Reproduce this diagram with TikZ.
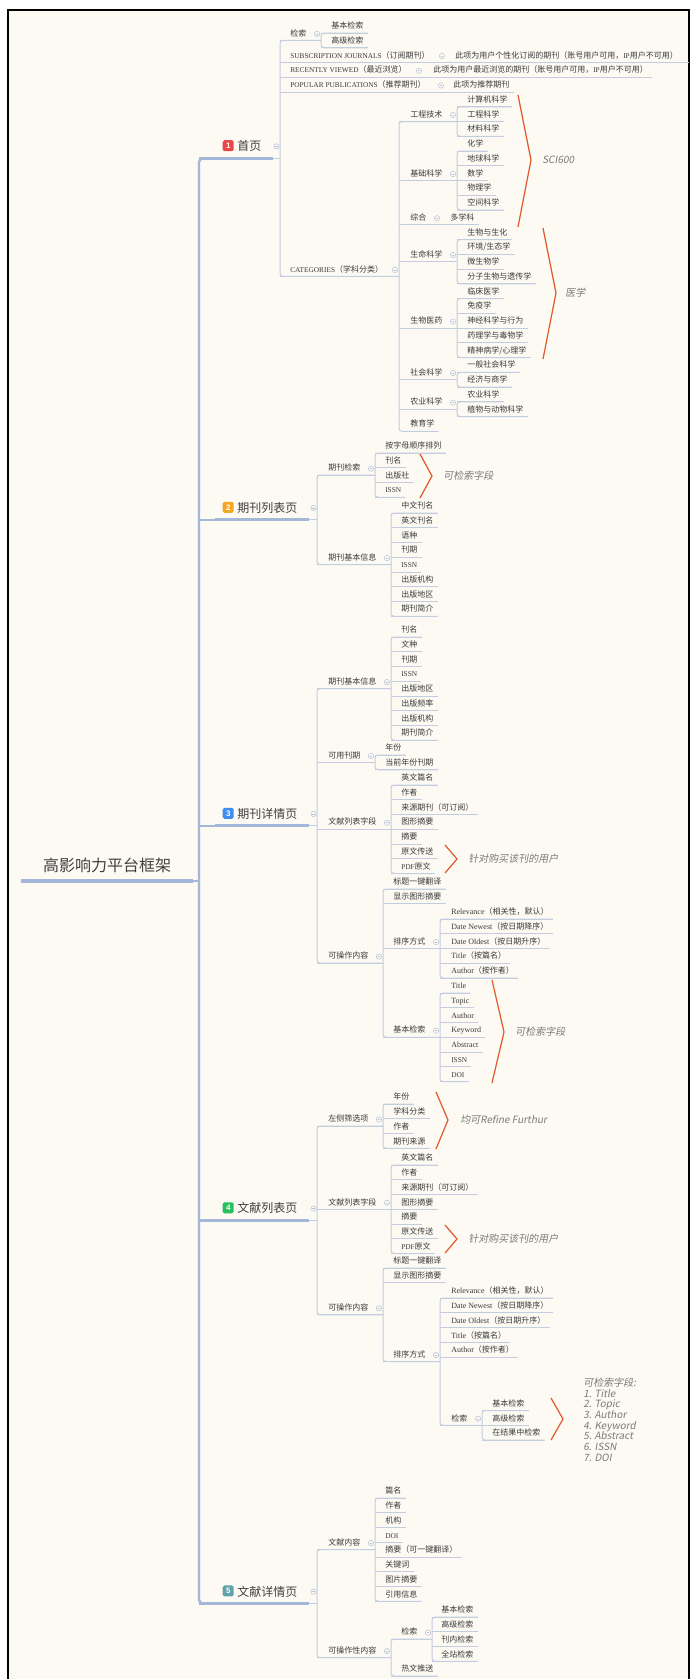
\documentclass[tikz,border=0pt]{standalone}
\usepackage{fontspec}
\setmainfont{Noto Sans CJK SC}
\newfontfamily\latinfont{Liberation Serif}
\newfontfamily\badgefont{Liberation Sans}
\newfontfamily\notefont[FakeSlant=0.18]{Noto Sans CJK SC}
\usetikzlibrary{positioning}

\definecolor{bgc}{HTML}{FCFAF3}
\definecolor{linec}{HTML}{C3CDDF}
\definecolor{trunkc}{HTML}{A3B8D8}
\definecolor{foldc}{HTML}{B5C2D8}
\definecolor{txtc}{HTML}{3A3A3A}
\definecolor{topc}{HTML}{404040}
\definecolor{notec}{HTML}{7A7A7A}
\definecolor{bracec}{HTML}{E2582A}
\definecolor{bred}{HTML}{E9474B}
\definecolor{borange}{HTML}{F5A623}
\definecolor{bblue}{HTML}{3D8EF2}
\definecolor{bgreen}{HTML}{26C15A}
\definecolor{bteal}{HTML}{61A1AC}

\newcommand{\lat}[1]{{\latinfont #1}}
\newcommand{\capsl}[1]{{\latinfont\fontsize{5.5}{6}\selectfont #1}}

\tikzset{
    leaf/.style={anchor=south west, inner xsep=0pt, inner ysep=3pt, text depth=0pt,
        text=txtc, font=\fontsize{6}{7}\selectfont},
    topic/.style={anchor=south west, inner xsep=0pt, inner ysep=5.5pt, text depth=0pt,
        text=topc, font=\fontsize{9}{10}\selectfont},
    root/.style={anchor=south, inner xsep=16.5pt, inner ysep=7pt, text depth=0pt,
        text=topc, font=\fontsize{12}{13}\selectfont},
    badge/.style={fill=#1, rounded corners=1.2pt, inner sep=0pt, minimum size=8.25pt,
        text=white, font=\badgefont\bfseries\fontsize{6}{6}\selectfont},
    conn/.style={draw=linec, line width=0.75pt, rounded corners=2.25pt},
    trunk/.style={draw=trunkc, line width=1.8pt, rounded corners=3pt},
    topline/.style={draw=trunkc, line width=2.3pt},
    fold/.style={circle, draw=foldc, fill=bgc, line width=0.4pt, inner sep=0pt,
        minimum size=4pt, path picture={\draw[foldc, line width=0.4pt]
        ([xshift=-1.1pt]path picture bounding box.center) --
        ([xshift=1.1pt]path picture bounding box.center);}},
    brace/.style={draw=bracec, line width=0.9pt},
    note/.style={anchor=west, inner sep=0pt, text=notec,
        font=\notefont\fontsize{7.5}{8}\selectfont}
}

% children that end the branch: name-1, name-2, ... hung on (parent-j)
\newcommand{\leafset}[4]{%
    \foreach \y/\tx [count=\i] in {#4}{%
        \node[leaf] (#1-\i) at (#2,\y) {\tx};
        \draw[conn] (#1-j |- #1-\i.south) -- ([shift={(4,0)}]#1-\i.south east);
    }%
    \ifnum#3>1
        \draw[conn] ([shift={(4,0)}]#1-1.south east) -| (#1-j) |- ([shift={(4,0)}]#1-#3.south east);
    \fi
}
% children that have children of their own
\newcommand{\branchset}[3]{%
    \foreach \nm/\y/\jx/\tx in {#3}{%
        \node[leaf] (\nm) at (#2,\y) {\tx};
        \coordinate (\nm-j) at (\jx,\y);
        \draw[conn] (#1-j |- \nm-j) -- (\nm-j);
        \node[fold] (\nm-f) at ([shift={(-4,-6.5)}]\nm-j) {};
    }%
}

\begin{document}
\begin{tikzpicture}[x=0.75pt, y=-0.75pt]
    % Page and frame
    \useasboundingbox (0,0) rectangle (692,1679);
    \fill[white] (0,0) rectangle (692,1679);
    \fill[bgc] (8,10) rectangle (689,1679);
    \draw[line width=1.4pt] (8,1679) -- (8,10) -- (689,10) -- (689,1679);

    % Root and trunk
    \node[root] (root) at (107,881) {高影响力平台框架};
    \coordinate (root-j) at (199,881);
    \draw[topline] (root.south west) -- (root.south east);
    \draw[trunk] (root.south east) -- (root-j);

    % Main topics
    \foreach \nm/\y/\jx/\col/\lab/\tx in {home/158.4/280/bred/1/首页,
        jlist/519.9/317/borange/2/期刊列表页, jdet/825.9/317/bblue/3/期刊详情页,
        alist/1220.5/317/bgreen/4/文献列表页, adet/1603.6/317/bteal/5/文献详情页}
    {
        \node[topic] (\nm) at (237,\y) {\tx};
        \node[badge=\col, left=2.25pt of \nm] (\nm-b) {\lab};
        \coordinate (\nm-j) at (\jx,\y);
        \draw[trunk] (root-j |- \nm.south) -- ([shift={(-22,0)}]\nm.south west);
        \draw[topline] ([shift={(-22,0)}]\nm.south west) -- ([shift={(11,0)}]\nm.south east);
        \draw[conn] ([shift={(11,0)}]\nm.south east) -- (\nm-j);
        \node[fold] (\nm-f) at ([shift={(-3.5,-12)}]\nm-j) {};
    }
    \draw[trunk] ([shift={(-22,0)}]home.south west) -| (root-j) |- ([shift={(-22,0)}]adet.south west);

    % 1 首页
    \branchset{home}{290}{h-search/40.4/321/检索,
        h-sub/62.5/446/{\capsl{SUBSCRIPTION JOURNALS}（订阅期刊）},
        h-rec/77.25/423/{\capsl{RECENTLY VIEWED}（最近浏览）},
        h-pop/92/445/{\capsl{POPULAR PUBLICATIONS}（推荐期刊）},
        h-cat/276.4/399/{\capsl{CATEGORIES}（学科分类）}}
    \draw[conn] (h-search-j) -| (home-j) |- (h-cat-j);
    \leafset{h-search}{331}{2}{33/基本检索, 47.75/高级检索}
    \leafset{h-sub}{455}{1}{62.5/{此项为用户个性化订阅的期刊（账号用户可用，\capsl{IP}用户不可用）}}
    \draw[conn] (h-sub-1.south east) -- (h-sub-1.south east -| 689,0);
    \leafset{h-rec}{433}{1}{77.25/{此项为用户最近浏览的期刊（账号用户可用，\capsl{IP}用户不可用）}}
    \leafset{h-pop}{453}{1}{92/此项为推荐期刊}

    \branchset{h-cat}{410}{c-eng/121.5/457/工程技术, c-basic/180.5/457/基础科学,
        c-gen/224.75/441/综合, c-life/261.6/457/生命科学, c-med/328/457/生物医药,
        c-soc/379.6/457/社会科学, c-agr/409.1/457/农业科学}
    \node[leaf] (c-edu) at (410,431.25) {教育学};
    \draw[conn] (c-eng-j) -| (h-cat-j) |- ([shift={(4,0)}]c-edu.south east);
    \leafset{c-eng}{467}{3}{106.75/计算机科学, 121.5/工程科学, 136.25/材料科学}
    \leafset{c-basic}{467}{5}{151/化学, 165.75/地球科学, 180.5/数学, 195.25/物理学, 210/空间科学}
    \leafset{c-gen}{450}{1}{224.75/多学科}
    \leafset{c-life}{467}{4}{239.5/生物与生化, 254.25/环境\slash 生态学, 269/微生物学, 283.75/分子生物与遗传学}
    \leafset{c-med}{467}{5}{298.5/临床医学, 313.25/免疫学, 328/神经科学与行为, 342.75/药理学与毒物学, 357.5/精神病学\slash 心理学}
    \leafset{c-soc}{467}{2}{372.25/一般社会科学, 387/经济与商学}
    \leafset{c-agr}{467}{2}{401.75/农业科学, 416.5/植物与动物科学}

    % 2 期刊列表页
    \branchset{jlist}{328}{l-search/475.1/375/期刊检索, l-info/564.6/391/期刊基本信息}
    \draw[conn] (l-search-j) -| (jlist-j) |- (l-info-j);
    \leafset{l-search}{385}{4}{453/按字母顺序排列, 467.75/刊名, 482.5/出版社, 497.25/\capsl{ISSN}}
    \leafset{l-info}{401}{8}{513/中文刊名, 527.75/英文刊名, 542.5/语种, 557.25/刊期, 572/\capsl{ISSN}, 586.75/出版机构, 601.5/出版地区, 616.25/期刊简介}

    % 3 期刊详情页
    \branchset{jdet}{328}{d-info/688.6/391/期刊基本信息, d-vol/762.4/375/可用刊期,
        d-list/829.25/391/文献列表字段, d-op/963.1/383/可操作内容}
    \draw[conn] (d-info-j) -| (jdet-j) |- (d-op-j);
    \leafset{d-info}{401}{8}{637/刊名, 651.75/文种, 666.5/刊期, 681.25/\capsl{ISSN}, 696/出版地区, 710.75/出版频率, 725.5/出版机构, 740.25/期刊简介}
    \leafset{d-vol}{385}{2}{755/年份, 769.75/当前年份刊期}
    \leafset{d-list}{401}{7}{785/英文篇名, 799.75/作者, 814.5/来源期刊（可订阅）, 829.25/图形摘要, 844/摘要, 858.75/原文传送, 873.5/{\capsl{PDF}原文}}
    \branchset{d-op}{393}{d-sort/948.5/440/排序方式, d-bs/1037.25/440/基本检索}
    \leafset{d-op}{393}{0}{889/标题一键翻译, 903.75/显示图形摘要}
    \draw[conn] ([shift={(4,0)}]d-op-1.south east) -| (d-op-j) |- (d-bs-j);
    \leafset{d-sort}{451}{5}{919/{\lat{Relevance}（相关性，默认）}, 933.75/{\lat{Date Newest}（按日期降序）},
        948.5/{\lat{Date Oldest}（按日期升序）}, 963.25/{\lat{Title}（按篇名）}, 978/{\lat{Author}（按作者）}}
    \leafset{d-bs}{451}{7}{993/\lat{Title}, 1007.75/\lat{Topic}, 1022.5/\lat{Author}, 1037.25/\lat{Keyword},
        1052/\lat{Abstract}, 1066.75/\capsl{ISSN}, 1081.5/\capsl{DOI}}

    % 4 文献列表页
    \branchset{alist}{328}{a-filter/1126.1/383/左侧筛选项, a-list/1209.25/391/文献列表字段, a-op/1314.8/383/可操作内容}
    \draw[conn] (a-filter-j) -| (alist-j) |- (a-op-j);
    \leafset{a-filter}{393}{4}{1104/年份, 1118.75/学科分类, 1133.5/作者, 1148.25/期刊来源}
    \leafset{a-list}{401}{7}{1165/英文篇名, 1179.75/作者, 1194.5/来源期刊（可订阅）, 1209.25/图形摘要, 1224/摘要, 1238.75/原文传送, 1253.5/{\capsl{PDF}原文}}
    \branchset{a-op}{393}{a-sort/1361.6/440/排序方式}
    \leafset{a-op}{393}{0}{1268/标题一键翻译, 1282.75/显示图形摘要}
    \draw[conn] ([shift={(4,0)}]a-op-1.south east) -| (a-op-j) |- (a-sort-j);
    \branchset{a-sort}{451}{a-search/1425.25/482/检索}
    \leafset{a-sort}{451}{0}{1298/{\lat{Relevance}（相关性，默认）}, 1312.75/{\lat{Date Newest}（按日期降序）},
        1327.5/{\lat{Date Oldest}（按日期升序）}, 1342.25/{\lat{Title}（按篇名）}, 1357/{\lat{Author}（按作者）}}
    \draw[conn] ([shift={(4,0)}]a-sort-1.south east) -| (a-sort-j) |- (a-search-j);
    \leafset{a-search}{492}{3}{1410.5/基本检索, 1425.25/高级检索, 1440/在结果中检索}

    % 5 文献详情页
    \branchset{adet}{328}{e-cont/1549.6/375/文献内容, e-op/1657.6/391/可操作性内容}
    \draw[conn] (e-cont-j) -| (adet-j) |- (e-op-j);
    \leafset{e-cont}{385}{8}{1498/篇名, 1512.75/作者, 1527.5/机构, 1542.25/\capsl{DOI}, 1557/摘要（可一键翻译）,
        1571.75/关键词, 1586.5/图片摘要, 1601.25/引用信息}
    \branchset{e-op}{401}{e-search/1639.1/432/检索}
    \leafset{e-op}{401}{0}{1676/热文推送}
    \draw[conn] (e-search-j) -| (e-op-j) |- ([shift={(4,0)}]e-op-1.south east);
    \leafset{e-search}{441}{4}{1617/基本检索, 1631.75/高级检索, 1646.5/刊内检索, 1661.25/全站检索}

    % Notes on groups
    \draw[brace] (518,95) -- (531,160) -- (518,227);
    \node[note] (n-sci) at (542,160) {SCI600};
    \draw[brace] (543,228) -- (556,293) -- (543,359);
    \node[note] (n-med) at (565,293) {医学};
    \draw[brace] (420,454) -- (432,476) -- (420,498);
    \node[note] (n-jfield) at (443,476) {可检索字段};
    \draw[brace] (445,845) -- (457,859) -- (445,873);
    \node[note] (n-dbuy) at (468,859) {针对购买该刊的用户};
    \draw[brace] (492,980) -- (504,1032) -- (492,1083);
    \node[note] (n-dfield) at (515,1032) {可检索字段};
    \draw[brace] (436,1092) -- (448,1120) -- (436,1149);
    \node[note] (n-refine) at (460,1120) {均可Refine Furthur};
    \draw[brace] (445,1225) -- (457,1239) -- (445,1253);
    \node[note] (n-abuy) at (468,1239) {针对购买该刊的用户};
    \draw[brace] (551,1398) -- (563,1419) -- (551,1440);
    \node[note, align=left] (n-afield) at (583,1419.5) {可检索字段:\\1. Title\\2. Topic\\3. Author\\4. Keyword\\5. Abstract\\6. ISSN\\7. DOI};
\end{tikzpicture}
\end{document}
